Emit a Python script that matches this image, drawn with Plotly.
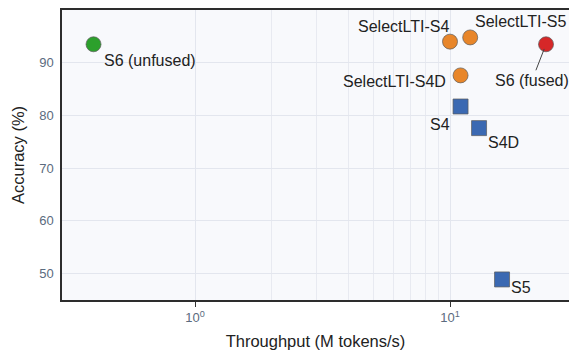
import math
import plotly.graph_objects as go

# Model throughput vs. accuracy
models = ["S6 (unfused)", "SelectLTI-S4", "SelectLTI-S5", "S6 (fused)",
          "SelectLTI-S4D", "S4", "S4D", "S5"]
throughput = [0.4, 10.0, 12.0, 23.8, 11.0, 11.0, 13.0, 16.0]   # M tokens/s
accuracy = [93.5, 94.0, 94.8, 93.5, 87.6, 81.7, 77.6, 48.9]     # %
groups = ["s6u", "lti", "lti", "s6f", "lti", "lti_base", "lti_base", "lti_base"]

x_tickvals = [1, 10]
x_ticktext = ["10<sup>0</sup>", "10<sup>1</sup>"]
y_tickvals = [50, 60, 70, 80, 90]

group_style = {
    "s6u": dict(color="#2ca02c", symbol="circle"),
    "lti": dict(color="#e8862a", symbol="circle"),
    "s6f": dict(color="#d62728", symbol="circle"),
    "lti_base": dict(color="#3b69b2", symbol="square"),
}

# label placement: (xanchor, xshift, yshift)
label_place = {
    "S6 (unfused)": ("left", 8, -16),
    "SelectLTI-S4": ("right", 1, 15),
    "SelectLTI-S5": ("left", 3, 16),
    "SelectLTI-S4D": ("right", -13, -6),
    "S4": ("right", -9, -18),
    "S4D": ("left", 7, -14),
    "S5": ("left", 7, -8),
}

FONT = "Liberation Sans, Arial, sans-serif"
LABEL_SIZE = 16
fig = go.Figure()

for g, st in group_style.items():
    idx = [i for i, gg in enumerate(groups) if gg == g]
    fig.add_trace(go.Scatter(
        x=[throughput[i] for i in idx],
        y=[accuracy[i] for i in idx],
        mode="markers",
        marker=dict(size=15, color=st["color"], symbol=st["symbol"],
                    line=dict(color="#5a5a5a", width=0.7)),
        showlegend=False,
    ))

annotations = []
for name, xv, yv in zip(models, throughput, accuracy):
    if name == "S6 (fused)":
        # leader line from the label up to the marker
        annotations.append(dict(
            x=math.log10(xv), y=yv, xref="x", yref="y", text=name,
            showarrow=True, arrowhead=0, arrowwidth=1, arrowcolor="#444",
            ax=-14, ay=36, standoff=5,
            font=dict(family=FONT, size=LABEL_SIZE, color="#222")))
    else:
        xa, xs, ys = label_place[name]
        annotations.append(dict(
            x=math.log10(xv), y=yv, xref="x", yref="y", text=name,
            showarrow=False, xanchor=xa, yanchor="middle",
            xshift=xs, yshift=ys,
            font=dict(family=FONT, size=LABEL_SIZE, color="#222")))

fig.update_layout(
    width=569, height=350,
    margin=dict(l=62, r=0, t=10, b=50),
    paper_bgcolor="white",
    plot_bgcolor="#f8f9fc",
    font=dict(family=FONT, color="#222"),
    annotations=annotations,
)

fig.update_xaxes(
    type="log",
    range=[-0.5216, 1.4667],
    tickmode="array", tickvals=x_tickvals, ticktext=x_ticktext,
    tickfont=dict(size=13, color="#5b6b7e"),
    ticks="outside", ticklen=5, tickcolor="#333", tickwidth=1,
    showgrid=True, gridcolor="#e3e6ee", gridwidth=1,
    minor=dict(tickmode="array", tickvals=[2, 3, 4, 5, 6, 7, 8, 9],
               showgrid=True, gridcolor="#e8eaf1", gridwidth=1, ticks=""),
    showline=True, linecolor="#2d2d2d", linewidth=1.5, mirror=True,
    zeroline=False,
    title=dict(text="Throughput (M tokens/s)",
               font=dict(family=FONT, size=16.5, color="#222"), standoff=12),
)

fig.update_yaxes(
    range=[45, 100],
    tickmode="array", tickvals=y_tickvals,
    tickfont=dict(size=13, color="#5b6b7e"),
    showgrid=True, gridcolor="#e3e6ee", gridwidth=1,
    showline=True, linecolor="#2d2d2d", linewidth=1.5, mirror=False,
    zeroline=False,
    ticks="", ticklabelstandoff=4,
    title=dict(text="Accuracy (%)",
               font=dict(family=FONT, size=16.5, color="#222"), standoff=10),
)

fig.write_html("out.html")
